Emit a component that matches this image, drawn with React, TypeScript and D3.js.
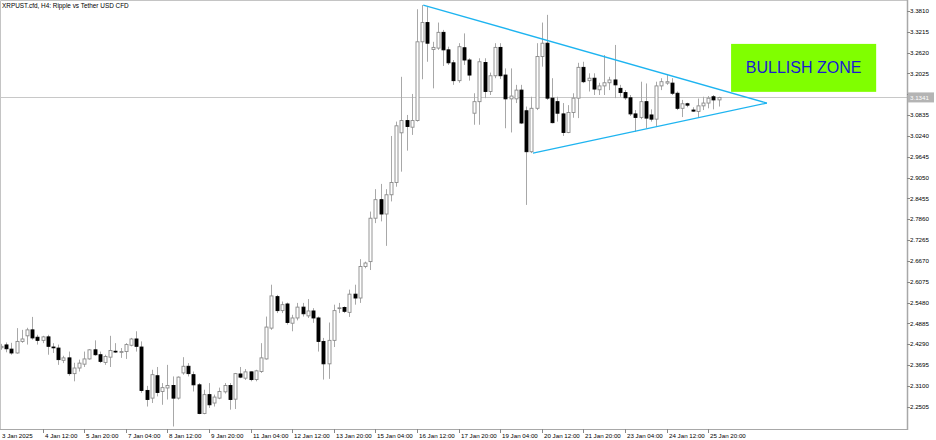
import React from 'react';
import * as d3 from 'd3';

// XRPUST.cfd H4 candles, 3 Jan 04:00 .. 26 Jan 04:00
const OPEN = [
  2.419, 2.427, 2.415, 2.404, 2.437, 2.453, 2.470, 2.449, 2.440, 2.450,
  2.421, 2.418, 2.383, 2.390, 2.345, 2.361, 2.372, 2.387, 2.413, 2.399,
  2.377, 2.392, 2.409, 2.407, 2.408, 2.426, 2.444, 2.421, 2.297, 2.275,
  2.339, 2.294, 2.304, 2.311, 2.275, 2.347, 2.366, 2.342, 2.313, 2.231,
  2.285, 2.261, 2.275, 2.293, 2.311, 2.272, 2.344, 2.332, 2.350, 2.328,
  2.351, 2.387, 2.475, 2.565, 2.525, 2.544, 2.489, 2.504, 2.535, 2.510,
  2.524, 2.504, 2.437, 2.373, 2.440, 2.532, 2.534, 2.520, 2.572, 2.561,
  2.651, 2.665, 2.789, 2.842, 2.801, 2.856, 2.891, 3.033, 3.068, 3.049,
  3.068, 3.293, 3.348, 3.271, 3.275, 3.320, 3.270, 3.233, 3.182, 3.276,
  3.241, 3.089, 3.122, 3.234, 3.151, 3.196, 3.277, 3.198, 3.130, 3.130,
  3.155, 3.096, 2.979, 3.103, 3.251, 3.289, 3.132, 3.122, 3.087, 3.034,
  3.091, 3.132, 3.220, 3.182, 3.189, 3.156, 3.167, 3.176, 3.184, 3.160,
  3.148, 3.133, 3.087, 3.077, 3.122, 3.084, 3.072, 3.167, 3.175, 3.175,
  3.146, 3.103, 3.116, 3.098, 3.094, 3.110, 3.118, 3.136, 3.127,
];
const HIGH = [
  2.430, 2.434, 2.433, 2.475, 2.470, 2.476, 2.507, 2.456, 2.453, 2.456,
  2.432, 2.428, 2.396, 2.408, 2.376, 2.385, 2.408, 2.415, 2.440, 2.408,
  2.399, 2.453, 2.432, 2.418, 2.432, 2.447, 2.466, 2.437, 2.310, 2.356,
  2.364, 2.318, 2.370, 2.337, 2.337, 2.392, 2.375, 2.351, 2.318, 2.299,
  2.318, 2.285, 2.305, 2.318, 2.318, 2.347, 2.364, 2.358, 2.351, 2.356,
  2.432, 2.508, 2.599, 2.570, 2.551, 2.548, 2.513, 2.547, 2.547, 2.558,
  2.532, 2.508, 2.447, 2.491, 2.542, 2.547, 2.537, 2.585, 2.599, 2.672,
  2.665, 2.808, 2.872, 2.887, 2.872, 3.024, 3.065, 3.193, 3.084, 3.144,
  3.386, 3.398, 3.392, 3.293, 3.348, 3.327, 3.279, 3.241, 3.289, 3.317,
  3.246, 3.146, 3.246, 3.246, 3.205, 3.289, 3.289, 3.217, 3.217, 3.170,
  3.170, 3.108, 3.136, 3.289, 3.348, 3.370, 3.189, 3.136, 3.118, 3.112,
  3.146, 3.233, 3.236, 3.203, 3.203, 3.176, 3.255, 3.193, 3.284, 3.170,
  3.155, 3.141, 3.098, 3.179, 3.174, 3.100, 3.179, 3.189, 3.198, 3.189,
  3.151, 3.127, 3.119, 3.106, 3.131, 3.136, 3.138, 3.141, 3.136,
];
const LOW = [
  2.413, 2.406, 2.399, 2.402, 2.433, 2.428, 2.442, 2.428, 2.432, 2.399,
  2.404, 2.370, 2.375, 2.339, 2.323, 2.351, 2.364, 2.385, 2.396, 2.375,
  2.370, 2.364, 2.404, 2.390, 2.387, 2.423, 2.408, 2.290, 2.251, 2.261,
  2.280, 2.256, 2.271, 2.194, 2.271, 2.342, 2.337, 2.294, 2.229, 2.229,
  2.247, 2.251, 2.272, 2.288, 2.242, 2.244, 2.332, 2.327, 2.323, 2.323,
  2.347, 2.385, 2.470, 2.518, 2.518, 2.485, 2.466, 2.497, 2.508, 2.504,
  2.490, 2.408, 2.328, 2.330, 2.421, 2.518, 2.518, 2.507, 2.542, 2.547,
  2.646, 2.641, 2.775, 2.780, 2.710, 2.837, 2.879, 2.922, 2.982, 3.027,
  3.065, 3.186, 3.236, 3.160, 3.270, 3.224, 3.227, 3.170, 3.176, 3.227,
  3.182, 3.056, 3.056, 3.132, 3.141, 3.189, 3.187, 3.046, 3.034, 3.118,
  3.058, 2.827, 2.975, 3.098, 3.222, 3.127, 3.060, 3.065, 3.024, 3.032,
  3.076, 3.075, 3.175, 3.151, 3.141, 3.141, 3.141, 3.155, 3.132, 3.136,
  3.127, 3.081, 3.036, 3.072, 3.046, 3.065, 3.051, 3.155, 3.170, 3.141,
  3.098, 3.078, 3.106, 3.093, 3.078, 3.098, 3.103, 3.100, 3.108,
];
const CLOSE = [
  2.423, 2.416, 2.404, 2.437, 2.444, 2.470, 2.447, 2.440, 2.450, 2.423,
  2.420, 2.385, 2.390, 2.345, 2.361, 2.375, 2.387, 2.413, 2.399, 2.380,
  2.394, 2.411, 2.407, 2.408, 2.428, 2.444, 2.423, 2.297, 2.271, 2.342,
  2.291, 2.305, 2.311, 2.275, 2.335, 2.366, 2.345, 2.313, 2.231, 2.285,
  2.256, 2.278, 2.294, 2.311, 2.271, 2.345, 2.335, 2.350, 2.328, 2.353,
  2.390, 2.478, 2.567, 2.525, 2.542, 2.491, 2.504, 2.535, 2.516, 2.524,
  2.504, 2.437, 2.373, 2.440, 2.525, 2.533, 2.523, 2.572, 2.561, 2.651,
  2.661, 2.789, 2.842, 2.801, 2.856, 2.891, 3.053, 3.068, 3.051, 3.068,
  3.293, 3.348, 3.289, 3.277, 3.320, 3.270, 3.233, 3.182, 3.279, 3.241,
  3.198, 3.122, 3.236, 3.151, 3.196, 3.277, 3.196, 3.130, 3.138, 3.155,
  3.061, 2.979, 3.103, 3.251, 3.289, 3.132, 3.062, 3.089, 3.034, 3.091,
  3.132, 3.220, 3.179, 3.189, 3.158, 3.167, 3.176, 3.184, 3.170, 3.148,
  3.133, 3.087, 3.077, 3.122, 3.075, 3.072, 3.167, 3.179, 3.179, 3.146,
  3.103, 3.116, 3.112, 3.095, 3.110, 3.118, 3.132, 3.127, 3.134,
];

const PRICE_TICKS = [
  '2.2505', '2.3100', '2.3695', '2.4290', '2.4885', '2.5480', '2.6075',
  '2.6670', '2.7265', '2.7860', '2.8455', '2.9050', '2.9645', '3.0240',
  '3.0835', '3.1430', '3.2025', '3.2620', '3.3215', '3.3810',
];
const TIME_LABELS = [
  '3 Jan 2025', '4 Jan 12:00', '5 Jan 20:00', '7 Jan 04:00', '8 Jan 12:00',
  '9 Jan 20:00', '11 Jan 04:00', '12 Jan 12:00', '13 Jan 20:00', '15 Jan 04:00',
  '16 Jan 12:00', '17 Jan 20:00', '19 Jan 04:00', '20 Jan 12:00', '21 Jan 20:00',
  '23 Jan 04:00', '24 Jan 12:00', '25 Jan 20:00',
];
const TIME_LABEL_BARS = [0, 8, 16, 24, 32, 40, 48, 56, 64, 72, 80, 88, 96, 104, 112, 120, 128, 136];

const LAST_PRICE = 3.1341;
const TITLE = 'XRPUST.cfd, H4:  Ripple vs Tether USD CFD';

// triangle drawn on the chart: (bar index, price)
const TRI_UPPER = [{ bar: 81.2, price: 3.398 }, { bar: 147.3, price: 3.118 }];
const TRI_LOWER = [{ bar: 102.3, price: 2.975 }, { bar: 147.3, price: 3.118 }];

const ZONE_BARS = [140.4, 168.3];
const ZONE_PRICES = [3.287, 3.150];
const ZONE_LABEL = 'BULLISH ZONE';

const W = 936;
const H = 440;
const PLOT_R = 907;
const PLOT_B = 429;
const FONT = '"Liberation Sans", Arial, sans-serif';

export default function App() {
  const x = d3.scaleLinear().domain([0, 174]).range([1, 905.8]);
  const y = d3.scaleLinear().domain([2.2505, 3.381]).range([406.7, 11]);

  const line = d3.line<{ bar: number; price: number }>()
    .x(d => x(d.bar))
    .y(d => y(d.price));

  const candles = OPEN.map((o, i) => ({ i, o, h: HIGH[i], l: LOW[i], c: CLOSE[i] }));

  return (
    <svg width={W} height={H} style={{ position: 'fixed', left: 0, top: 0, background: '#fff' }}>
      <rect x={0} y={0} width={W} height={H} fill="#fff" />
      <defs>
        <clipPath id="plot">
          <rect x={0} y={0} width={PLOT_R} height={PLOT_B} />
        </clipPath>
      </defs>

      {/* last price line */}
      <line x1={0} x2={PLOT_R} y1={Math.round(y(LAST_PRICE)) + 0.5} y2={Math.round(y(LAST_PRICE)) + 0.5}
        stroke="#c8c8c8" strokeWidth={1} />

      <g clipPath="url(#plot)">
        {/* zone box */}
        <rect x={x(ZONE_BARS[0])} y={y(ZONE_PRICES[0])}
          width={x(ZONE_BARS[1]) - x(ZONE_BARS[0])} height={y(ZONE_PRICES[1]) - y(ZONE_PRICES[0])}
          fill="#80ff00" />
        <text x={(x(ZONE_BARS[0]) + x(ZONE_BARS[1])) / 2} y={(y(ZONE_PRICES[0]) + y(ZONE_PRICES[1])) / 2 + 5.5}
          textAnchor="middle" fontFamily={FONT} fontSize={16} fill="#1a1ad2">{ZONE_LABEL}</text>

        {/* wicks */}
        {candles.map(d => {
          const cx = Math.round(x(d.i)) + 0.5;
          return <line key={'w' + d.i} x1={cx} x2={cx} y1={y(d.h)} y2={y(d.l)} stroke="#a8a8a8" strokeWidth={1} />;
        })}
        {/* bodies */}
        {candles.map(d => {
          const cx = Math.round(x(d.i)) + 0.5;
          const top = Math.min(y(d.o), y(d.c));
          const hgt = Math.max(Math.abs(y(d.o) - y(d.c)), 0.8);
          const bull = d.c >= d.o;
          return (
            <rect key={'b' + d.i} x={cx - 1.5} y={top} width={3} height={hgt}
              fill={bull ? '#fff' : '#000'} stroke={bull ? '#8a8a8a' : '#000'} strokeWidth={0.9} />
          );
        })}

        {/* triangle */}
        <path d={line(TRI_UPPER) || ''} fill="none" stroke="#1eb4f0" strokeWidth={1.3} />
        <path d={line(TRI_LOWER) || ''} fill="none" stroke="#1eb4f0" strokeWidth={1.3} />
      </g>

      {/* frame */}
      <path d={`M0.5,${PLOT_B + 0.5} V0.5 H${PLOT_R + 0.5} V${PLOT_B + 0.5} H0.5`} fill="none" stroke="#c4c4c4" />
      <line x1={PLOT_R + 0.5} x2={PLOT_R + 0.5} y1={0} y2={PLOT_B + 1} stroke="#a8a8a8" strokeWidth={1.5} />
      <line x1={0} x2={PLOT_R + 1} y1={PLOT_B + 0.5} y2={PLOT_B + 0.5} stroke="#a8a8a8" strokeWidth={1} />

      {/* price axis */}
      {PRICE_TICKS.map(t => {
        const py = y(+t);
        return (
          <g key={t}>
            <line x1={PLOT_R} x2={PLOT_R + 3} y1={Math.round(py) + 0.5} y2={Math.round(py) + 0.5} stroke="#888" />
            <text x={PLOT_R + 3} y={py + 2.2} fontFamily={FONT} fontSize={6.2} fill="#000">{t}</text>
          </g>
        );
      })}
      <rect x={PLOT_R + 1} y={y(LAST_PRICE) - 5} width={W - PLOT_R - 3} height={10} fill="#b4b4b4" />
      <text x={PLOT_R + 3} y={y(LAST_PRICE) + 2.2} fontFamily={FONT} fontSize={6.2} fill="#fff">
        {LAST_PRICE.toFixed(4)}
      </text>

      {/* time axis */}
      {TIME_LABELS.map((t, k) => {
        const tx = Math.round(x(TIME_LABEL_BARS[k])) + 0.5;
        return (
          <g key={t}>
            {k > 0 && <line x1={tx} x2={tx} y1={PLOT_B} y2={PLOT_B + 4} stroke="#888" />}
            <text x={k === 0 ? 2 : tx + 1.5} y={PLOT_B + 8.5} fontFamily={FONT} fontSize={6.2} fill="#000">{t}</text>
          </g>
        );
      })}

      {/* title */}
      <text x={2} y={8} fontFamily={FONT} fontSize={6.4} fill="#000">{TITLE}</text>
    </svg>
  );
}
